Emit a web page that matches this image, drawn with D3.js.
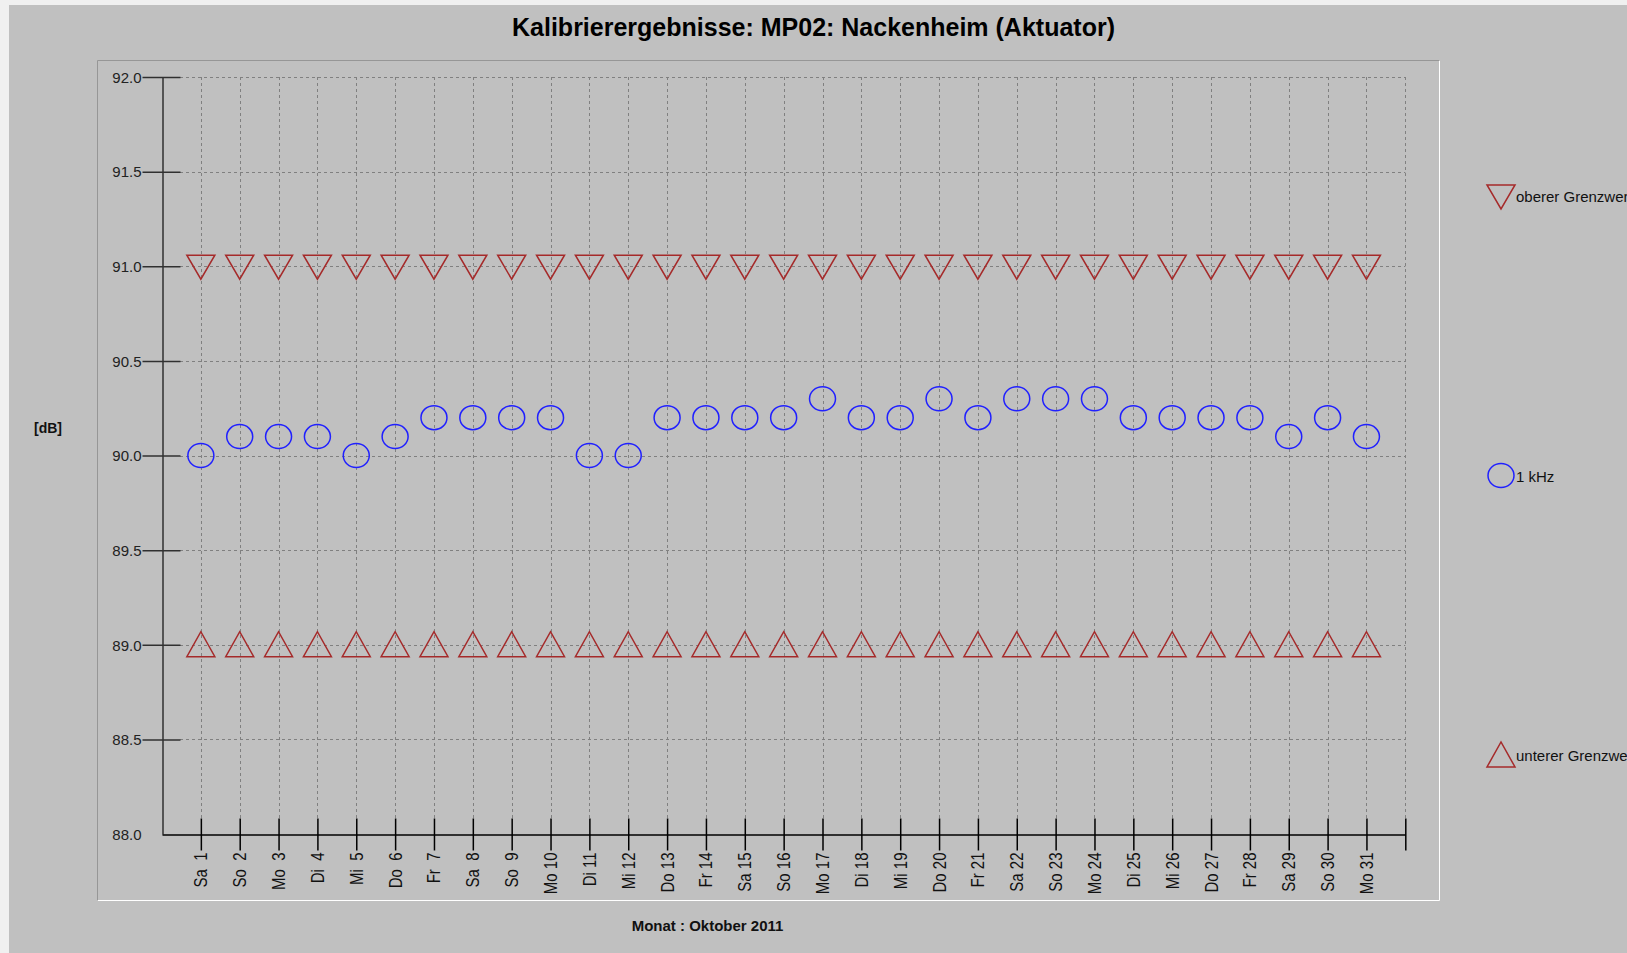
<!DOCTYPE html>
<html>
<head>
<meta charset="utf-8">
<script src="https://cdn.jsdelivr.net/npm/d3@7"></script>
<style>
  html, body { margin: 0; padding: 0; background: #f0f0f0; }
  svg { display: block; font-family: "Liberation Sans", Arial, sans-serif; }
</style>
</head>
<body>
<div id="chart"></div>
<script>
// Oktober 2011, Tag 1..31
var days = d3.range(1, 32);
var weekdays = ["Sa", "So", "Mo", "Di", "Mi", "Do", "Fr", "Sa", "So", "Mo", "Di", "Mi", "Do", "Fr",
  "Sa", "So", "Mo", "Di", "Mi", "Do", "Fr", "Sa", "So", "Mo", "Di", "Mi", "Do", "Fr", "Sa", "So", "Mo"];
var kHz1 = [90.0, 90.1, 90.1, 90.1, 90.0, 90.1, 90.2, 90.2, 90.2, 90.2, 90.0, 90.0, 90.2, 90.2, 90.2,
  90.2, 90.3, 90.2, 90.2, 90.3, 90.2, 90.3, 90.3, 90.3, 90.2, 90.2, 90.2, 90.2, 90.1, 90.2, 90.1];
var obererGrenzwert = days.map(function () { return 91.0; });
var untererGrenzwert = days.map(function () { return 89.0; });
var yTicks = [88.0, 88.5, 89.0, 89.5, 90.0, 90.5, 91.0, 91.5, 92.0];
var legendNames = ["oberer Grenzwert", "1 kHz", "unterer Grenzwert"];

var W = 1627, H = 953;
var red = "#a52a2a", blue = "#2020ff";

var svg = d3.select("#chart").append("svg")
  .attr("width", W)
  .attr("height", H);

// background + plot panel
svg.append("rect").attr("x", 9).attr("y", 5).attr("width", W - 9).attr("height", H - 5).attr("fill", "#c0c0c0");
svg.append("path").attr("d", "M97.5,900V60.5H1439").attr("fill", "none").attr("stroke", "#969696");
svg.append("path").attr("d", "M98,900.5H1439.5V61").attr("fill", "none").attr("stroke", "#ffffff");

var x = d3.scaleLinear().domain([0, 32]).range([162, 1405.3]);
var y = d3.scaleLinear().domain([88, 92]).range([834, 77]);

// grid
var g = svg.append("g");
g.selectAll(".hgrid").data(yTicks.slice(1)).enter().append("line")
  .attr("x1", 180).attr("x2", x(32))
  .attr("y1", function (d) { return Math.round(y(d)) + 0.5; })
  .attr("y2", function (d) { return Math.round(y(d)) + 0.5; })
  .attr("stroke", "#808080").attr("stroke-dasharray", "3,3");
g.selectAll(".vgrid").data(d3.range(1, 33)).enter().append("line")
  .attr("x1", function (d) { return Math.round(x(d)) + 0.5; })
  .attr("x2", function (d) { return Math.round(x(d)) + 0.5; })
  .attr("y1", y(92)).attr("y2", 818)
  .attr("stroke", "#808080").attr("stroke-dasharray", "3,3");

// y axis
var yAxis = svg.append("g")
  .attr("transform", "translate(162.5,0)")
  .call(d3.axisLeft(y).tickValues(yTicks).tickFormat(d3.format(".1f")).tickSizeOuter(0));
yAxis.select(".domain").attr("stroke", "#303030").attr("stroke-width", 1.5);
yAxis.selectAll(".tick line")
  .attr("x1", 18).attr("x2", -20)
  .attr("stroke", "#303030").attr("stroke-width", 1.5)
  .filter(function (d) { return d === 88; }).remove();
yAxis.selectAll(".tick text")
  .attr("x", -21).attr("dy", "0.35em")
  .attr("fill", "#222").style("font-size", "15px").style("font-family", "'Liberation Sans', Arial, sans-serif");

// x axis
var xAxis = svg.append("g")
  .attr("transform", "translate(0,834.5)")
  .call(d3.axisBottom(x).tickValues(d3.range(1, 33)).tickSizeOuter(0)
    .tickFormat(function (d) {
      if (d > 31) return "";
      return weekdays[d - 1] + (d < 10 ? "  " : " ") + d;
    }));
xAxis.select(".domain").attr("stroke", "#000").attr("stroke-width", 1.5);
xAxis.selectAll(".tick line")
  .attr("y1", -16).attr("y2", 16)
  .attr("stroke", "#000").attr("stroke-width", 1.5);
xAxis.selectAll(".tick text")
  .attr("y", 0).attr("dy", 0)
  .attr("transform", "translate(6,18) rotate(-90) scale(1,1.2)")
  .attr("text-anchor", "end")
  .attr("fill", "#111")
  .style("white-space", "pre")
  .style("font-size", "15px").style("font-family", "'Liberation Sans', Arial, sans-serif");

// markers
function triDown(cx, cy) { return "M" + (cx - 14) + "," + (cy - 11) + "H" + (cx + 14) + "L" + cx + "," + (cy + 13) + "Z"; }
function triUp(cx, cy) { return "M" + (cx - 14) + "," + (cy + 12) + "H" + (cx + 14) + "L" + cx + "," + (cy - 13) + "Z"; }

svg.append("g").selectAll("path").data(obererGrenzwert).enter().append("path")
  .attr("d", function (d, i) { return triDown(x(days[i]), y(d)); })
  .attr("fill", "none").attr("stroke", red).attr("stroke-width", 1.5);
svg.append("g").selectAll("path").data(untererGrenzwert).enter().append("path")
  .attr("d", function (d, i) { return triUp(x(days[i]), y(d)); })
  .attr("fill", "none").attr("stroke", red).attr("stroke-width", 1.5);
svg.append("g").selectAll("ellipse").data(kHz1).enter().append("ellipse")
  .attr("cx", function (d, i) { return x(days[i]); })
  .attr("cy", function (d) { return y(d); })
  .attr("rx", 13).attr("ry", 12)
  .attr("fill", "none").attr("stroke", blue).attr("stroke-width", 1.5);

// legend (texts run off the right edge, as in the original)
var ly = d3.scalePoint().domain(legendNames).range([196, 755]);
var lx = 1501;
var legend = svg.append("g");
legend.append("path").attr("d", triDown(lx, ly(legendNames[0]))).attr("fill", "none").attr("stroke", red).attr("stroke-width", 1.5);
legend.append("ellipse").attr("cx", lx).attr("cy", ly(legendNames[1])).attr("rx", 13).attr("ry", 12)
  .attr("fill", "none").attr("stroke", blue).attr("stroke-width", 1.5);
legend.append("path").attr("d", triUp(lx, ly(legendNames[2]))).attr("fill", "none").attr("stroke", red).attr("stroke-width", 1.5);
legend.selectAll("text").data(legendNames).enter().append("text")
  .attr("x", lx + 15)
  .attr("y", function (d) { return ly(d) + 6; })
  .attr("fill", "#111").style("font-size", "15px")
  .text(function (d) { return d; });

// titles
svg.append("text").attr("x", 813.5).attr("y", 36).attr("text-anchor", "middle")
  .style("font-size", "25px").style("font-weight", "bold").attr("fill", "#000")
  .text("Kalibrierergebnisse: MP02: Nackenheim (Aktuator)");
svg.append("text").attr("x", 707.5).attr("y", 931).attr("text-anchor", "middle")
  .style("font-size", "15px").style("font-weight", "bold").attr("fill", "#111")
  .text("Monat : Oktober 2011");
svg.append("text").attr("x", 48).attr("y", 433).attr("text-anchor", "middle")
  .style("font-size", "14px").style("font-weight", "bold").attr("fill", "#111")
  .text("[dB]");
</script>
</body>
</html>
